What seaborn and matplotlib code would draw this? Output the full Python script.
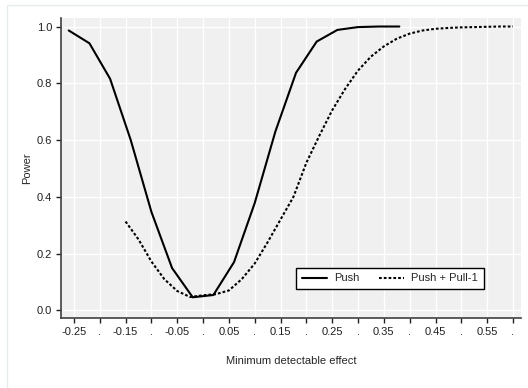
import seaborn as sns
import pandas as pd
import numpy as np
import matplotlib.pyplot as plt
from matplotlib.patches import Rectangle

# power curves
push_effect = [-0.26, -0.22, -0.18, -0.14, -0.10, -0.06, -0.02, 0.02, 0.06,
               0.10, 0.14, 0.18, 0.22, 0.26, 0.30, 0.34, 0.38]
push_power = [0.986, 0.941, 0.816, 0.60, 0.347, 0.149, 0.046, 0.054, 0.17,
              0.378, 0.63, 0.837, 0.947, 0.988, 0.998, 1.0, 1.0]

pull_effect = [-0.150, -0.125, -0.100, -0.075, -0.050, -0.025, 0.000, 0.025,
               0.050, 0.075, 0.100, 0.125, 0.150, 0.175, 0.200, 0.225, 0.250,
               0.275, 0.300, 0.325, 0.350, 0.375, 0.400, 0.425, 0.450, 0.475,
               0.500, 0.525, 0.550, 0.575, 0.600]
pull_power = [0.313, 0.25, 0.172, 0.11, 0.068, 0.047, 0.053, 0.057,
              0.070, 0.11, 0.165, 0.24, 0.32, 0.400, 0.52, 0.615, 0.705,
              0.78, 0.845, 0.894, 0.93, 0.957, 0.975, 0.986, 0.992, 0.995,
              0.997, 0.998, 0.999, 1.0, 1.0]

series_names = ["Push", "Push + Pull-1"]

x_ticks = [-0.25, -0.20, -0.15, -0.10, -0.05, 0.00, 0.05, 0.10, 0.15,
           0.20, 0.25, 0.30, 0.35, 0.40, 0.45, 0.50, 0.55, 0.60]
x_tick_labels = ["-0.25", ".", "-0.15", ".", "-0.05", ".", "0.05", ".", "0.15",
                 ".", "0.25", ".", "0.35", ".", "0.45", ".", "0.55", "."]
y_ticks = [0.0, 0.2, 0.4, 0.6, 0.8, 1.0]
y_tick_labels = ["0.0", "0.2", "0.4", "0.6", "0.8", "1.0"]

df = pd.concat([
    pd.DataFrame({"effect": push_effect, "power": push_power, "series": series_names[0]}),
    pd.DataFrame({"effect": pull_effect, "power": pull_power, "series": series_names[1]}),
])

sns.set_theme(style="darkgrid", rc={
    "axes.facecolor": "#f0f0f0",
    "grid.color": "white",
    "grid.linewidth": 1.0,
    "axes.edgecolor": "#404040",
    "xtick.bottom": True,
    "ytick.left": True,
})
plt.rcParams["font.family"] = ["Liberation Sans", "DejaVu Sans"]

fig = plt.figure(figsize=(5.28, 3.88), dpi=100)
# faint outer frame of the graph region
fig.patches.append(Rectangle((7 / 528, -0.1), 1.2, 1 - 5 / 388 + 0.1,
                             transform=fig.transFigure, fill=False,
                             edgecolor="#e6ecee", linewidth=1.0))
ax = fig.add_axes([61 / 528, 1 - 318 / 388, 460 / 528, 300 / 388])

sns.lineplot(data=df, x="effect", y="power", style="series",
             dashes={"Push": "", "Push + Pull-1": (1.3, 1.0)},
             color="black", linewidth=1.5, ax=ax, legend=True)

ax.set_xlim(-0.275, 0.6155)
ax.set_ylim(-0.027, 1.03)
ax.set_xticks(x_ticks)
ax.set_xticklabels(x_tick_labels)
ax.set_yticks(y_ticks)
ax.set_yticklabels(y_tick_labels)
ax.tick_params(axis="both", labelsize=8, colors="#202020", width=1.0,
               length=3.5, pad=3, direction="out")
for s in ["top", "right"]:
    ax.spines[s].set_visible(False)
for s in ["left", "bottom"]:
    ax.spines[s].set_visible(True)
    ax.spines[s].set_linewidth(1.2)
    ax.spines[s].set_color("#404040")

ax.set_xlabel("Minimum detectable effect", fontsize=8, labelpad=14)
ax.set_ylabel("Power", fontsize=8, labelpad=3)

leg = ax.legend(loc="center", bbox_to_anchor=(0.715, 0.132), ncol=2,
                fontsize=8, frameon=True, fancybox=False, framealpha=1,
                handlelength=2.3, handletextpad=0.65, columnspacing=1.7,
                borderpad=0.5)
leg.get_frame().set_edgecolor("black")
leg.get_frame().set_linewidth(1.0)
leg.get_frame().set_facecolor("white")

fig.savefig("out.png", dpi=100)
